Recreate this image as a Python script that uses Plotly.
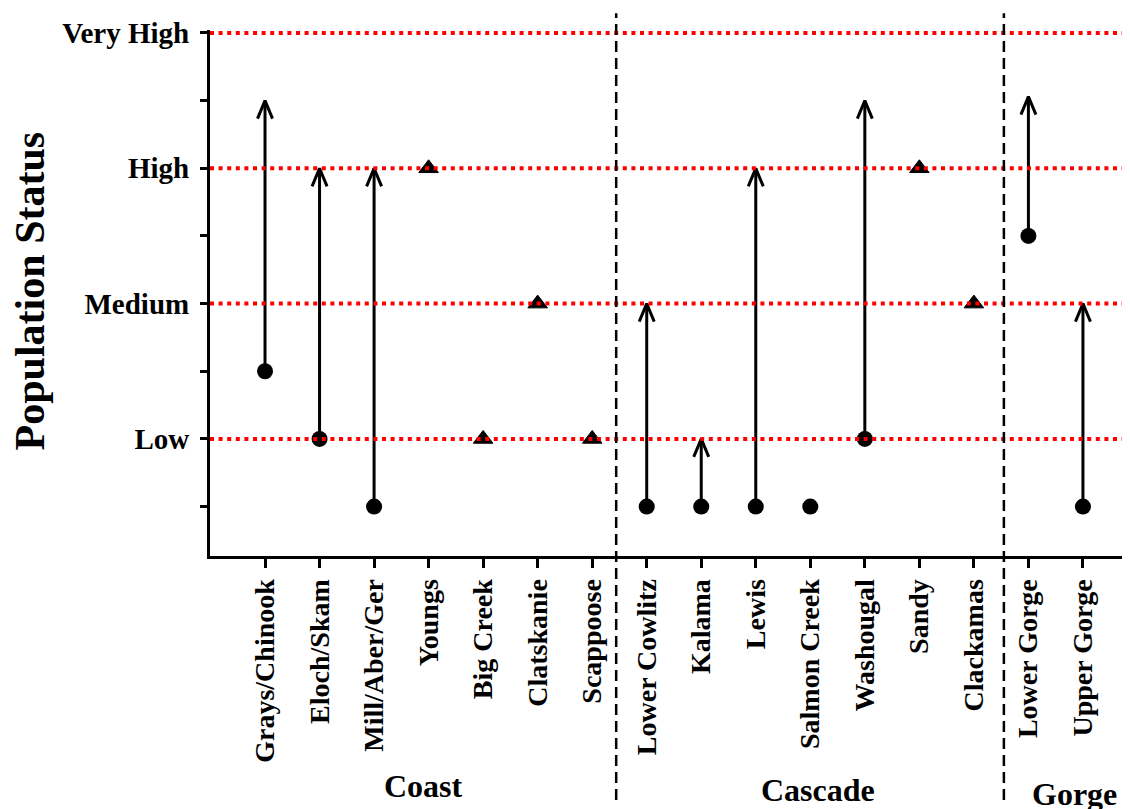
import plotly.graph_objects as go

# ---------------- data ----------------
populations = ["Grays/Chinook", "Eloch/Skam", "Mill/Aber/Ger", "Youngs", "Big Creek",
               "Clatskanie", "Scappoose", "Lower Cowlitz", "Kalama", "Lewis",
               "Salmon Creek", "Washougal", "Sandy", "Clackamas", "Lower Gorge", "Upper Gorge"]
# status scale: Low=1, Medium=2, High=3, Very High=4 (half steps between)
current_status = [1.5, 1, 0.5, 3, 1, 2, 1, 0.5, 0.5, 0.5, 0.5, 1, 3, 2, 2.5, 0.5]
target_status = [3.5, 3, 3, None, None, None, None, 2, 1, 3, None, 3.5, None, None, 3.53, 2]
has_trend = [True, True, True, False, False, False, False, True, True, True,
             True, True, False, False, True, True]
status_levels = [1, 2, 3, 4]
status_labels = ["Low", "Medium", "High", "Very High"]
strata = ["Coast", "Cascade", "Gorge"]
strata_centers = [3.91, 11.14, 15.85]
strata_bounds = [7.44, 14.55]

# ---------------- layout geometry ----------------
# page body has an 8px margin, so the figure is 8px smaller than the window
W, H = 1122, 801
ML, MR, MT, MB = 202, 0, 22, 253
plot_w = W - ML - MR
plot_h = H - MT - MB
x_range = [-0.009, 16.863]
y_range = [0.135, 4.022]
ux = (x_range[1] - x_range[0]) / plot_w   # data units per px
uy = (y_range[1] - y_range[0]) / plot_h

FONT = "Liberation Serif"
xs = list(range(1, len(populations) + 1))

# arrows: shafts + chevron heads
sx, sy = [], []
head_dx, head_dy = 7.5 * ux, 18 * uy
for x, y0, y1 in zip(xs, current_status, target_status):
    if y1 is None:
        continue
    sx += [x, x, None]
    sy += [y0, y1, None]
    sx += [x - head_dx, x, x + head_dx, None]
    sy += [y1 - head_dy, y1, y1 - head_dy, None]

fig = go.Figure()
fig.add_trace(go.Scatter(x=sx, y=sy, mode="lines",
                         line=dict(color="black", width=3), hoverinfo="skip",
                         showlegend=False))

cx = [x for x, t in zip(xs, has_trend) if t]
cy = [y for y, t in zip(current_status, has_trend) if t]
tx = [x for x, t in zip(xs, has_trend) if not t]
ty = [y for y, t in zip(current_status, has_trend) if not t]
fig.add_trace(go.Scatter(x=cx, y=cy, mode="markers",
                         marker=dict(symbol="circle", size=16, color="black"),
                         showlegend=False))
fig.add_trace(go.Scatter(x=tx, y=ty, mode="markers",
                         marker=dict(symbol="triangle-up", size=17, color="black",
                                     line=dict(color="black", width=1)),
                         showlegend=False))

# red dotted reference lines (drawn above the markers)
for lv in status_levels:
    fig.add_shape(type="line", xref="paper", x0=0, x1=1, yref="y", y0=lv, y1=lv,
                  line=dict(color="#ff0000", width=4, dash="4px,4.6px"), layer="above")

# stratum separators
for b in strata_bounds:
    fig.add_shape(type="line", xref="x", x0=b, x1=b, yref="paper", y0=-0.464, y1=1.032,
                  line=dict(color="black", width=2.5, dash="11px,6px"), layer="above")

# stratum labels
strata_y = [-0.437, -0.444, -0.452]
for name, xc, yc in zip(strata, strata_centers, strata_y):
    fig.add_annotation(text=name, x=xc, xref="x", y=yc, yref="paper",
                       showarrow=False, xanchor="center", yanchor="middle",
                       font=dict(family=FONT, size=32, color="black", weight="bold"))

# y title
fig.add_annotation(text="Population Status", textangle=-90,
                   x=-180 / plot_w, xref="paper", y=0.503, yref="paper",
                   showarrow=False, xanchor="center", yanchor="middle",
                   font=dict(family=FONT, size=42, color="black", weight="bold"))

fig.update_layout(
    width=W, height=H,
    margin=dict(l=ML, r=MR, t=MT, b=MB, pad=0),
    paper_bgcolor="white", plot_bgcolor="white",
    showlegend=False,
    xaxis=dict(range=x_range, tickmode="array", tickvals=xs, ticktext=populations,
               tickangle=-90, showgrid=False, zeroline=False,
               showline=True, linecolor="black", linewidth=3,
               ticks="outside", ticklen=9, tickwidth=2.5, tickcolor="black",
               ticklabelstandoff=0,
               tickfont=dict(family=FONT, size=28, color="black", weight="bold")),
    yaxis=dict(range=y_range, tickmode="array", tickvals=status_levels,
               ticktext=status_labels, showgrid=False, zeroline=False,
               showline=True, linecolor="black", linewidth=3,
               ticks="outside", ticklen=7, tickwidth=3, tickcolor="black",
               ticklabelstandoff=5,
               minor=dict(ticks="outside", ticklen=7, tickwidth=3, tickcolor="black",
                          tick0=0.5, dtick=1, showgrid=False),
               tickfont=dict(family=FONT, size=29, color="black", weight="bold")),
)

fig.write_html("out.html")
